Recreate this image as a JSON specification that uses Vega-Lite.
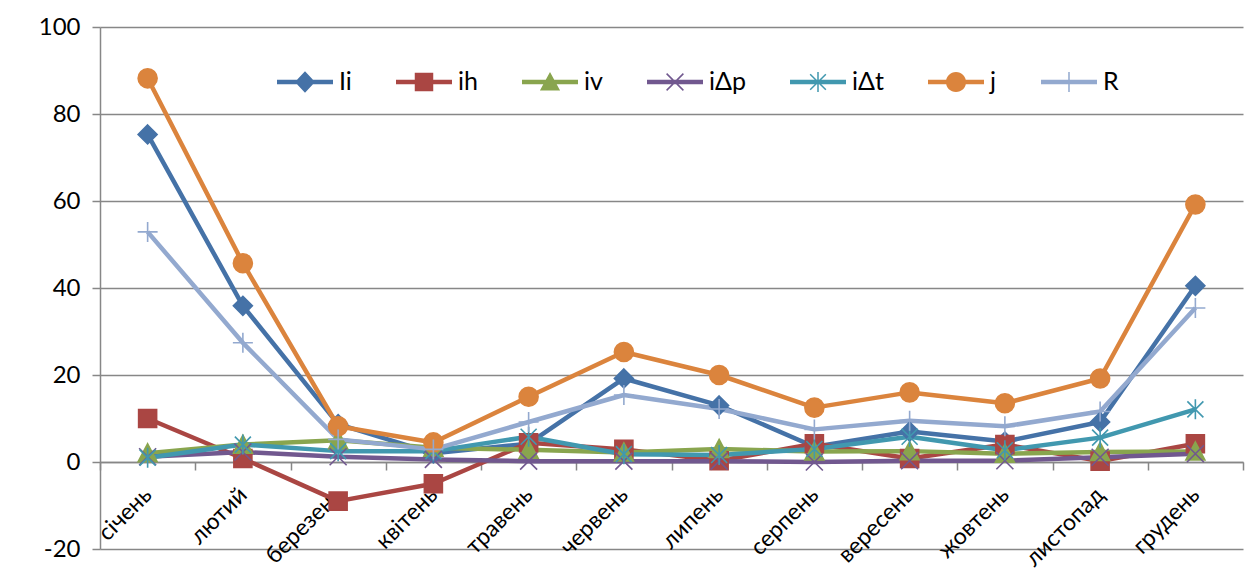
{
  "$schema": "https://vega.github.io/schema/vega-lite/v6.json",
  "width": 1143,
  "height": 522,
  "autosize": "none",
  "padding": {"left": 100, "top": 27, "right": 15, "bottom": 23},
  "background": "white",
  "config": {
    "view": {"stroke": null},
    "font": "Lato",
    "axis": {"labelFont": "Lato", "labelColor": "black", "domainColor": "#878787", "domainWidth": 1.5, "tickColor": "#878787", "tickWidth": 1.5, "gridColor": "#878787", "gridWidth": 1.5, "title": null}
  },
  "data": {"values": [
    {"m":"січень","s":"Ii","v":75.3},{"m":"лютий","s":"Ii","v":35.9},{"m":"березень","s":"Ii","v":8.7},{"m":"квітень","s":"Ii","v":2.0},{"m":"травень","s":"Ii","v":4.2},{"m":"червень","s":"Ii","v":19.2},{"m":"липень","s":"Ii","v":13.0},{"m":"серпень","s":"Ii","v":3.5},{"m":"вересень","s":"Ii","v":7.0},{"m":"жовтень","s":"Ii","v":4.7},{"m":"листопад","s":"Ii","v":9.2},{"m":"грудень","s":"Ii","v":40.5},
    {"m":"січень","s":"ih","v":10.0},{"m":"лютий","s":"ih","v":0.8},{"m":"березень","s":"ih","v":-9.0},{"m":"квітень","s":"ih","v":-5.0},{"m":"травень","s":"ih","v":4.4},{"m":"червень","s":"ih","v":2.9},{"m":"липень","s":"ih","v":0.3},{"m":"серпень","s":"ih","v":4.2},{"m":"вересень","s":"ih","v":0.8},{"m":"жовтень","s":"ih","v":4.0},{"m":"листопад","s":"ih","v":0.2},{"m":"грудень","s":"ih","v":4.2},
    {"m":"січень","s":"iv","v":2.0},{"m":"лютий","s":"iv","v":4.0},{"m":"березень","s":"iv","v":5.0},{"m":"квітень","s":"iv","v":3.3},{"m":"травень","s":"iv","v":2.8},{"m":"червень","s":"iv","v":2.2},{"m":"липень","s":"iv","v":3.0},{"m":"серпень","s":"iv","v":2.4},{"m":"вересень","s":"iv","v":2.5},{"m":"жовтень","s":"iv","v":1.9},{"m":"листопад","s":"iv","v":2.3},{"m":"грудень","s":"iv","v":2.4},
    {"m":"січень","s":"iΔp","v":1.2},{"m":"лютий","s":"iΔp","v":2.3},{"m":"березень","s":"iΔp","v":1.2},{"m":"квітень","s":"iΔp","v":0.6},{"m":"травень","s":"iΔp","v":0.2},{"m":"червень","s":"iΔp","v":0.2},{"m":"липень","s":"iΔp","v":0.2},{"m":"серпень","s":"iΔp","v":0.0},{"m":"вересень","s":"iΔp","v":0.3},{"m":"жовтень","s":"iΔp","v":0.3},{"m":"листопад","s":"iΔp","v":1.1},{"m":"грудень","s":"iΔp","v":1.9},
    {"m":"січень","s":"iΔt","v":1.0},{"m":"лютий","s":"iΔt","v":4.0},{"m":"березень","s":"iΔt","v":2.5},{"m":"квітень","s":"iΔt","v":2.5},{"m":"травень","s":"iΔt","v":5.8},{"m":"червень","s":"iΔt","v":1.8},{"m":"липень","s":"iΔt","v":1.6},{"m":"серпень","s":"iΔt","v":3.0},{"m":"вересень","s":"iΔt","v":5.8},{"m":"жовтень","s":"iΔt","v":2.7},{"m":"листопад","s":"iΔt","v":5.6},{"m":"грудень","s":"iΔt","v":12.1},
    {"m":"січень","s":"j","v":88.2},{"m":"лютий","s":"j","v":45.7},{"m":"березень","s":"j","v":8.2},{"m":"квітень","s":"j","v":4.5},{"m":"травень","s":"j","v":15.0},{"m":"червень","s":"j","v":25.3},{"m":"липень","s":"j","v":20.0},{"m":"серпень","s":"j","v":12.5},{"m":"вересень","s":"j","v":16.0},{"m":"жовтень","s":"j","v":13.5},{"m":"листопад","s":"j","v":19.2},{"m":"грудень","s":"j","v":59.2},
    {"m":"січень","s":"R","v":52.9},{"m":"лютий","s":"R","v":27.4},{"m":"березень","s":"R","v":5.2},{"m":"квітень","s":"R","v":2.9},{"m":"травень","s":"R","v":9.2},{"m":"червень","s":"R","v":15.4},{"m":"липень","s":"R","v":12.2},{"m":"серпень","s":"R","v":7.5},{"m":"вересень","s":"R","v":9.5},{"m":"жовтень","s":"R","v":8.2},{"m":"листопад","s":"R","v":11.6},{"m":"грудень","s":"R","v":35.4}
  ]},
  "resolve": {"scale": {"color": "independent", "shape": "independent"}},
  "layer": [
    {
      "mark": {"type": "line", "strokeWidth": 4.5, "strokeJoin": "round"},
      "encoding": {
        "x": {"field": "m", "type": "nominal", "bandPosition": 0.5,
          "sort": ["січень","лютий","березень","квітень","травень","червень","липень","серпень","вересень","жовтень","листопад","грудень"],
          "scale": {"type": "band", "paddingInner": 0, "paddingOuter": 0},
          "axis": {"offset": -87, "tickBand": "extent", "tickSize": 8, "labelAngle": -45, "labelAlign": "right", "labelBaseline": "middle", "labelPadding": 21, "labelFontSize": 23, "labelOverlap": false, "labelBound": false, "labelFlush": false, "grid": false}},
        "y": {"field": "v", "type": "quantitative",
          "scale": {"domain": [-20, 100], "nice": false, "zero": false},
          "axis": {"values": [-20, 0, 20, 40, 60, 80, 100], "labelExpr": "'' + datum.value", "grid": true, "tickSize": 8, "labelPadding": 12, "labelFontSize": 24}},
        "color": {"field": "s", "type": "nominal", "legend": null,
          "scale": {"domain": ["Ii","ih","iv","iΔp","iΔt","j","R"], "range": ["#4572A7","#AA4643","#89A54E","#71588F","#4198AF","#DB843D","#93A9CF"]}},
        "order": {"field": "s", "type": "nominal"}
      }
    },
    {
      "mark": {"type": "point", "filled": true, "opacity": 1, "size": 400, "strokeWidth": 1.6},
      "encoding": {
        "x": {"field": "m", "type": "nominal", "bandPosition": 0.5,
          "sort": ["січень","лютий","березень","квітень","травень","червень","липень","серпень","вересень","жовтень","листопад","грудень"]},
        "y": {"field": "v", "type": "quantitative"},
        "color": {"field": "s", "type": "nominal", "legend": null,
          "scale": {"domain": ["Ii","ih","iv","iΔp","iΔt","j","R"], "range": ["#4572A7","#AA4643","#89A54E","#71588F","#4198AF","#DB843D","#93A9CF"]}},
        "stroke": {"field": "s", "type": "nominal", "legend": null,
          "scale": {"domain": ["Ii","ih","iv","iΔp","iΔt","j","R"], "range": ["#4572A7","#AA4643","#89A54E","#71588F","#4198AF","#DB843D","#93A9CF"]}},
        "shape": {"field": "s", "type": "nominal", "legend": null,
          "scale": {"domain": ["Ii","ih","iv","iΔp","iΔt","j","R"], "range": [
            "M0,-0.95L0.95,0L0,0.95L-0.95,0Z",
            "M-0.9,-0.9H0.9V0.9H-0.9Z",
            "M0,-0.95L0.95,0.85H-0.95Z",
            "M-0.85,-0.85L0.85,0.85M-0.85,0.85L0.85,-0.85",
            "M-0.8,-0.8L0.8,0.8M-0.8,0.8L0.8,-0.8M0,-1L0,1",
            "M0.95,0C0.95,0.525,0.525,0.95,0,0.95C-0.525,0.95,-0.95,0.525,-0.95,0C-0.95,-0.525,-0.525,-0.95,0,-0.95C0.525,-0.95,0.95,-0.525,0.95,0Z",
            "M-1,0L1,0M0,-1L0,1"
          ]}}
      }
    },
    {
      "transform": [{"filter": "datum.v > 1000"}],
      "mark": {"type": "point", "filled": true, "opacity": 1, "size": 3136},
      "encoding": {
        "x": {"field": "m", "type": "nominal", "bandPosition": 0.5,
          "sort": ["січень","лютий","березень","квітень","травень","червень","липень","серпень","вересень","жовтень","листопад","грудень"]},
        "y": {"field": "v", "type": "quantitative"},
        "color": {"field": "s", "type": "nominal",
          "scale": {"domain": ["Ii","ih","iv","iΔp","iΔt","j","R"], "range": ["#4572A7","#AA4643","#89A54E","#71588F","#4198AF","#DB843D","#93A9CF"]},
          "legend": {"title": null, "orient": "none", "legendX": 177, "legendY": 27, "direction": "horizontal", "columnPadding": 44, "labelOffset": 6, "symbolSize": 3136, "symbolStrokeWidth": 0, "labelFont": "Lato", "labelFontSize": 25, "labelColor": "black", "padding": 0}},
        "shape": {"field": "s", "type": "nominal",
          "scale": {"domain": ["Ii","ih","iv","iΔp","iΔt","j","R"], "range": [
            "M-1,-0.08H1V0.08H-1Z M0,-0.38L0.36,0L0,0.38L-0.36,0Z",
            "M-1,-0.08H1V0.08H-1Z M-0.33,-0.33H0.33V0.33H-0.33Z",
            "M-1,-0.08H1V0.08H-1Z M0,-0.36L0.36,0.3H-0.36Z",
            "M-1,-0.08H1V0.08H-1Z M-0.281,-0.319L0.319,0.281L0.281,0.319L-0.319,-0.281Z M-0.281,0.319L-0.319,0.281L0.281,-0.319L0.319,-0.281Z",
            "M-1,-0.08H1V0.08H-1Z M-0.261,-0.299L0.299,0.261L0.261,0.299L-0.299,-0.261Z M-0.261,0.299L-0.299,0.261L0.261,-0.299L0.299,-0.261Z M-0.027,-0.36H0.027V0.36H-0.027Z",
            "M-1,-0.08H1V0.08H-1Z M0.36,0C0.36,0.199,0.199,0.36,0,0.36C-0.199,0.36,-0.36,0.199,-0.36,0C-0.36,-0.199,-0.199,-0.36,0,-0.36C0.199,-0.36,0.36,-0.199,0.36,0Z",
            "M-1,-0.08H1V0.08H-1Z M-0.027,-0.36H0.027V0.36H-0.027Z"
          ]},
          "legend": {"title": null, "orient": "none", "legendX": 177, "legendY": 27, "direction": "horizontal", "columnPadding": 44, "labelOffset": 6, "symbolSize": 3136, "symbolStrokeWidth": 0, "labelFont": "Lato", "labelFontSize": 25, "labelColor": "black", "padding": 0}}
      }
    }
  ]
}
